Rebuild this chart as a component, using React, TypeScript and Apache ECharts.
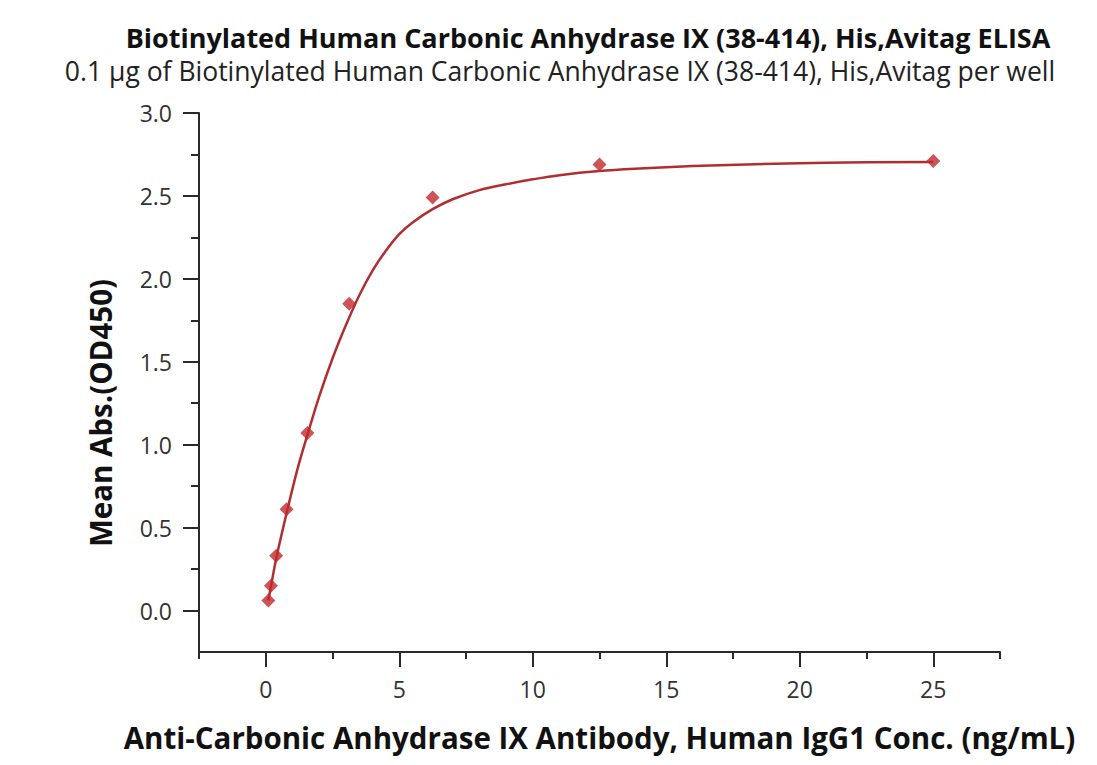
import React, { useEffect, useRef } from "react";
import * as echarts from "echarts";

const titleText = "Biotinylated Human Carbonic Anhydrase IX (38-414), His,Avitag ELISA";
const subtitleText = "0.1 µg of Biotinylated Human Carbonic Anhydrase IX (38-414), His,Avitag per well";
const xAxisName = "Anti-Carbonic Anhydrase IX Antibody, Human IgG1 Conc. (ng/mL)";
const yAxisName = "Mean Abs.(OD450)";

const concentrations = [0.098, 0.195, 0.39, 0.78, 1.56, 3.125, 6.25, 12.5, 25];
const absorbance = [0.06, 0.15, 0.33, 0.61, 1.07, 1.85, 2.49, 2.69, 2.71];

// fitted curve
const fitX = [0.098, 0.2, 0.4, 0.8, 1.2, 1.6, 2.0, 2.5, 3.0, 3.5, 4.0, 4.5, 5.0, 5.5, 6.25, 7.0, 8.0, 9.0, 10.0, 11.0, 12.5, 14.0, 16.0, 18.0, 21.0, 25.0];
const fitY = [0.06, 0.15, 0.32, 0.6, 0.86, 1.08, 1.29, 1.52, 1.72, 1.9, 2.05, 2.17, 2.27, 2.34, 2.42, 2.48, 2.535, 2.57, 2.6, 2.625, 2.65, 2.665, 2.68, 2.69, 2.7, 2.705];

const xMajorTicks = [0, 5, 10, 15, 20, 25];
const xMinorTicks = [-2.5, 2.5, 7.5, 12.5, 17.5, 22.5, 27.5];
const yMajorTicks = [0, 0.5, 1, 1.5, 2, 2.5, 3];
const yMinorTicks = [0.25, 0.75, 1.25, 1.75, 2.25, 2.75];

const FONT = "Open Sans";
const AXIS_COLOR = "#2a2a2a";

export default function App() {
  const ref = useRef<HTMLDivElement>(null);
  useEffect(() => {
    if (!ref.current) return;
    const chart = echarts.init(ref.current, null, { renderer: "svg" });
    const axisLine = { show: true, onZero: false, lineStyle: { color: AXIS_COLOR, width: 2 } };
    chart.setOption({
      animation: false,
      backgroundColor: "#fff",
      grid: { left: 199, right: 97, top: 113, bottom: 113, containLabel: false },
      graphic: [
        {
          type: "text",
          x: 588,
          y: 37,
          style: {
            text: titleText,
            fontFamily: FONT,
            fontWeight: "bold",
            fontSize: 27,
            fill: "#111",
            textAlign: "center",
            textVerticalAlign: "middle",
          },
        },
        {
          type: "text",
          x: 560,
          y: 71,
          style: {
            text: subtitleText,
            fontFamily: FONT,
            fontSize: 26.5,
            fill: "#222",
            textAlign: "center",
            textVerticalAlign: "middle",
          },
        },
        {
          type: "text",
          x: 100,
          y: 413,
          rotation: Math.PI / 2,
          style: {
            text: yAxisName,
            fontFamily: FONT,
            fontWeight: "bold",
            fontSize: 29.5,
            fill: "#111",
            textAlign: "center",
            textVerticalAlign: "middle",
          },
        },
      ],
      xAxis: [
        {
          type: "value",
          min: -2.5,
          max: 27.5,
          position: "bottom",
          axisLine,
          axisTick: { show: true, customValues: xMajorTicks, length: 15, lineStyle: { color: AXIS_COLOR, width: 2 } },
          axisLabel: { customValues: xMajorTicks, margin: 25, fontSize: 23, fontFamily: FONT, color: "#333" },
          splitLine: { show: false },
          name: xAxisName,
          nameLocation: "middle",
          nameGap: 70,
          nameTextStyle: { fontFamily: FONT, fontWeight: "bold", fontSize: 29.5, color: "#111" },
        },
        {
          type: "value",
          min: -2.5,
          max: 27.5,
          position: "bottom",
          axisLine: { show: false, onZero: false },
          axisTick: { show: true, customValues: xMinorTicks, length: 7, lineStyle: { color: AXIS_COLOR, width: 2 } },
          axisLabel: { show: false },
          splitLine: { show: false },
        },
      ],
      yAxis: [
        {
          type: "value",
          min: -0.25,
          max: 3,
          position: "left",
          axisLine,
          axisTick: { show: true, customValues: yMajorTicks, length: 16, lineStyle: { color: AXIS_COLOR, width: 2 } },
          axisLabel: {
            customValues: yMajorTicks,
            margin: 27,
            fontSize: 23,
            fontFamily: FONT,
            color: "#333",
            formatter: (v: number) => v.toFixed(1),
          },
          splitLine: { show: false },
        },
        {
          type: "value",
          min: -0.25,
          max: 3,
          position: "left",
          axisLine: { show: false, onZero: false },
          axisTick: { show: true, customValues: yMinorTicks, length: 8, lineStyle: { color: AXIS_COLOR, width: 2 } },
          axisLabel: { show: false },
          splitLine: { show: false },
        },
      ],
      series: [
        {
          name: "fit",
          type: "line",
          xAxisIndex: 0,
          yAxisIndex: 0,
          data: fitX.map((x, i) => [x, fitY[i]]),
          smooth: 0.35,
          showSymbol: false,
          symbol: "none",
          lineStyle: { color: "#B02E30", width: 2.5 },
          z: 2,
        },
        {
          name: "data",
          type: "scatter",
          xAxisIndex: 0,
          yAxisIndex: 0,
          data: concentrations.map((x, i) => [x, absorbance[i]]),
          symbol: "diamond",
          symbolSize: 14,
          itemStyle: { color: "#C0282C" },
          z: 3,
        },
      ],
    });
    return () => chart.dispose();
  }, []);
  return (
    <div
      ref={ref}
      style={{ position: "absolute", left: 0, top: 0, width: 1097, height: 765, background: "#fff" }}
    />
  );
}
